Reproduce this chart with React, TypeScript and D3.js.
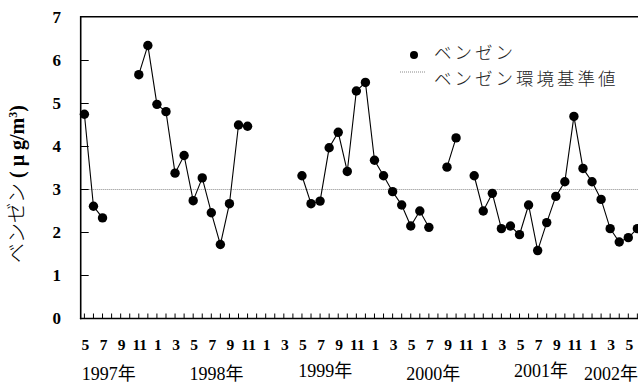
import React, { useMemo } from "react"
import * as d3 from "d3"

// ── Data ───────────────────────────────────────────────────────────────────────

// monthly series starting May 1997 (index 0), null = not measured
const START_MONTH = 5
const benzene: (number | null)[] = [
  4.75, 2.61, 2.34, null, null, null, 5.67, 6.35, // 1997
  4.98, 4.81, 3.38, 3.79, 2.74, 3.27, 2.46, 1.72, 2.67, 4.5, 4.47, null, // 1998
  null, null, null, null, 3.32, 2.67, 2.73, 3.97, 4.33, 3.42, 5.29, 5.49, // 1999
  3.68, 3.32, 2.95, 2.64, 2.15, 2.5, 2.12, null, 3.52, 4.2, null, 3.32, // 2000
  2.5, 2.91, 2.09, 2.15, 1.95, 2.64, 1.58, 2.23, 2.84, 3.18, 4.7, 3.49, // 2001
  3.18, 2.77, 2.09, 1.78, 1.88, 2.09, // 2002
]

const STANDARD = 3
const yTicks = [0, 1, 2, 3, 4, 5, 6, 7]
const yearLabels = ["1997年", "1998年", "1999年", "2000年", "2001年", "2002年"]
// month index where each year label starts
const yearLabelPos = [-0.3, 11.6, 23.6, 35.5, 47.4, 55.1]
const yearLabelRaise = [0, 0, 3, 0, 3, 0]

const SERIF = "Liberation Serif, Times New Roman, DejaVu Serif, Noto Sans CJK JP, serif"
const CJK = "Noto Sans CJK JP, Liberation Serif, serif"

// ── Chart ──────────────────────────────────────────────────────────────────────

export default function App() {
  const width = 638
  const height = 383
  const axisX = 80.7
  const plot = { top: 17.5, bottom: 318.5 }

  const points = useMemo(() => benzene.map((v, i) => ({ i, v })), [])

  // month index -> px, last visible month is cut at the frame edge
  const x = useMemo(
    () => d3.scaleLinear().domain([0, 61]).range([84.4, 84.4 + 9.065 * 61]),
    [],
  )
  const y = useMemo(
    () => d3.scaleLinear().domain([0, 7]).range([plot.bottom, plot.top]),
    [],
  )

  const line = d3
    .line<{ i: number; v: number | null }>()
    .defined(d => d.v != null)
    .x(d => x(d.i))
    .y(d => y(d.v as number))

  const monthTicks = d3.range(0, 62)
  const monthLabels = monthTicks.filter(m => m % 2 === 0)
  const monthOf = (m: number) => ((START_MONTH - 1 + m) % 12) + 1

  return (
    <div style={{ position: "absolute", left: 0, top: 0 }}>
      <svg width={width} height={height} style={{ display: "block" }}>
        <rect width={width} height={height} fill="white" />

        {/* Standard line */}
        <line
          x1={axisX}
          x2={width}
          y1={y(STANDARD)}
          y2={y(STANDARD)}
          stroke="#8a8a8a"
          strokeWidth={1}
          strokeDasharray="1 1"
        />

        {/* Frame */}
        <line x1={axisX} x2={width} y1={plot.top - 0.8} y2={plot.top - 0.8} stroke="black" strokeWidth={1.6} />
        <line x1={axisX} x2={axisX} y1={plot.top - 1.6} y2={plot.bottom + 0.8} stroke="black" strokeWidth={1.6} />
        <line x1={axisX - 0.8} x2={width} y1={plot.bottom} y2={plot.bottom} stroke="black" strokeWidth={1.6} />

        {/* Y ticks */}
        {yTicks.map(t => (
          <g key={t}>
            {t > 0 && t < 7 && (
              <line x1={axisX} x2={axisX + 8} y1={y(t)} y2={y(t)} stroke="black" strokeWidth={1} />
            )}
            <text
              x={61}
              y={y(t)}
              dy="0.34em"
              textAnchor="end"
              style={{ fontFamily: SERIF, fontWeight: "bold", fontSize: 17 }}
            >
              {t}
            </text>
          </g>
        ))}

        {/* Month ticks + labels */}
        {monthTicks.map(m => (
          <line
            key={`mt-${m}`}
            x1={x(m)}
            x2={x(m)}
            y1={plot.bottom}
            y2={plot.bottom - 5}
            stroke="black"
            strokeWidth={1}
          />
        ))}
        {monthLabels.map(m => (
          <text
            key={`ml-${m}`}
            x={x(m) + 1}
            y={350}
            textAnchor="middle"
            style={{ fontFamily: SERIF, fontWeight: "bold", fontSize: 15.5 }}
          >
            {monthOf(m)}
          </text>
        ))}

        {/* Year labels */}
        {yearLabels.map((lab, k) => (
          <text
            key={lab}
            x={x(yearLabelPos[k])}
            y={380 - yearLabelRaise[k]}
            style={{ fontFamily: SERIF, fontSize: 18 }}
          >
            {lab}
          </text>
        ))}

        {/* Y title */}
        <text
          transform="translate(24,184) rotate(-90)"
          textAnchor="middle"
          style={{ fontFamily: CJK, fontSize: 20, fontWeight: 300 }}
        >
          ベンゼン
          <tspan style={{ fontFamily: SERIF, fontWeight: "bold" }}> ( μ g/m</tspan>
          <tspan style={{ fontFamily: SERIF, fontWeight: "bold", fontSize: 12 }} dy={-7}>3</tspan>
          <tspan style={{ fontFamily: SERIF, fontWeight: "bold" }} dy={7}>)</tspan>
        </text>

        {/* Series */}
        <path d={line(points) ?? ""} fill="none" stroke="black" strokeWidth={1.1} />
        {points
          .filter(d => d.v != null)
          .map(d => (
            <circle key={d.i} cx={x(d.i)} cy={y(d.v as number)} r={4.7} fill="black" />
          ))}

        {/* Legend */}
        <g style={{ fontFamily: CJK, fontSize: 17.5, fontWeight: 300, letterSpacing: 3 }} fill="#222">
          <circle cx={414} cy={55} r={4} fill="black" />
          <text x={434} y={59}>ベンゼン</text>
          <line x1={400} x2={426} y1={72} y2={72} stroke="#8a8a8a" strokeWidth={1} strokeDasharray="1 1" />
          <text x={434} y={85}>ベンゼン環境基準値</text>
        </g>
      </svg>
    </div>
  )
}
